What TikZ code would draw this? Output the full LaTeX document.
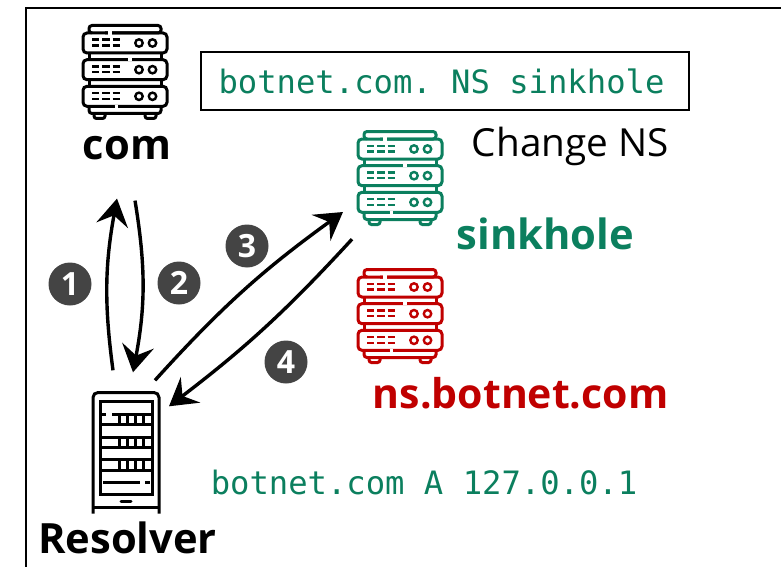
\documentclass[tikz,border=0pt]{standalone}
\usepackage{fontspec}
\setmainfont{Open Sans}
\setmonofont{DejaVu Sans Mono}
\usetikzlibrary{positioning,calc,arrows.meta}
\definecolor{sinkgreen}{HTML}{0B7F5E}
\definecolor{nsred}{HTML}{C00000}
\definecolor{badgegray}{HTML}{444444}

\tikzset{
  pics/server/.style={code={
    % cap, three units, feet
    \draw[line width=3pt, rounded corners=3pt] (-33,-39) -- (-36,-39) -- (-36,-46.5) -- (36,-46.5) -- (36,-39) -- (-20,-39);
    \foreach \y in {-39,-12.3,14.3} {
      \draw[line width=3pt, rounded corners=4pt] (-42,\y) rectangle (42,\y+20);
      \foreach \c in {-29.4,-19,-8.7} {
        \draw[line width=2.4pt] (\c-3.6,\y+6.7) -- (\c+3.6,\y+6.7);
        \draw[line width=2.4pt] (\c-3.6,\y+12.5) -- (\c+3.6,\y+12.5);
      }
      \draw[line width=2.4pt] (14,\y+10) circle (3.7pt);
      \draw[line width=2.4pt] (27.5,\y+10) circle (3.7pt);
    }
    \draw[white, line width=3.4pt] (-17,-39) -- (-13.5,-39);
    \draw[white, line width=3.4pt] (3,-12.3) -- (6.5,-12.3);
    \draw[line width=3pt] (-36,-19) -- (-36,-12.3) (36,-19) -- (36,-12.3);
    \draw[line width=3pt] (-36,7.7) -- (-36,14.3) (36,7.7) -- (36,14.3);
    \draw[line width=3pt, rounded corners=3pt] (-36,34.3) -- (-36,41.5) -- (36,41.5) -- (36,34.3);
    \draw[white, line width=3.4pt] (-10.5,34.3) -- (-7,34.3);
    \draw[line width=3pt, rounded corners=2.5pt] (-31,41.5) -- (-31,46.5) -- (-20,46.5) -- (-20,41.5);
    \draw[line width=3pt, rounded corners=2.5pt] (20,41.5) -- (20,46.5) -- (31,46.5) -- (31,41.5);
  }},
  pics/rack/.style={code={
    % cabinet, screen, shelves
    \draw[line width=3pt, rounded corners=5pt] (-33,60.5) -- (-33,-60.5) -- (33,-60.5) -- (33,60.5);
    \draw[line width=3pt] (-33,54) -- (33,54);
    \draw[line width=3pt] (-26,-52) rectangle (26,41);
    \draw[line width=3pt, line cap=round] (-5,48) -- (5,48);
    \foreach \y in {-29,-6,17} {
      \draw[line width=3pt] (-26,\y) -- (26,\y);
    }
    \foreach \y in {-39,-16,6.5} {
      \draw[line width=3pt] (-26,\y) -- (26,\y);
      \foreach \x in {-6.7,1.3,9.3,17.3} {
        \draw[line width=2.6pt] (\x,\y) -- (\x,\y+10.5);
      }
    }
    \draw[line width=3pt] (-23,29) -- (14,29);
    \draw[line width=3pt] (19,29) -- (24,29);
    \draw[white, line width=3.4pt] (-20,-39) -- (-14,-39);
  }}
}

\begin{document}
\begin{tikzpicture}[
        x=1pt, y=-1pt,
        iconbox/.style={minimum width=85pt, minimum height=96pt, inner sep=0pt},
        nametag/.style={inner sep=0pt, text height=30pt, text depth=0pt, font=\fontsize{41.7}{41.7}\selectfont\bfseries},
        record/.style={inner sep=0pt, font=\fontsize{32.2}{32.2}\selectfont\ttfamily, text=sinkgreen},
        badge/.style={circle, fill=badgegray, text=white, minimum size=43pt, inner sep=0pt, font=\fontsize{32}{32}\selectfont\bfseries},
        flow/.style={-{Stealth[length=27pt, width=32pt, inset=10pt]}, line width=3.4pt, shorten >=0pt}
      ]

      \useasboundingbox (0,0) rectangle (781,567);
      \draw[line width=2pt] (26,567) -- (26,8) -- (781,8);

      \node (comicon) [iconbox] at (125,72) {};
      \pic at (comicon) {server};
      \node (comtag) [nametag, below=9pt of comicon, xshift=2pt] {com};

      \node (zonebox) [record, draw=black, line width=2.6pt, minimum width=488pt, minimum height=58pt] at (445,81) {botnet.com. NS sinkhole\hspace*{7pt}};

      \node (sinkicon) [iconbox] at (400,178) {};
      \pic[color=sinkgreen] at (sinkicon) {server};
      \node (changetag) [inner sep=0pt, text height=30pt, text depth=0pt, font=\fontsize{38.7}{38.7}\selectfont, above right=-27pt and 29pt of sinkicon] {Change NS};
      \node (sinktag) [nametag, text=sinkgreen, below right=-7pt and 14pt of sinkicon] {sinkhole};

      \node (nsicon) [iconbox] at (400,316) {};
      \pic[color=nsred] at (nsicon) {server};
      \node (nstag) [nametag, font=\fontsize{41}{41}\selectfont\bfseries, text=nsred, below right=14pt and -70pt of nsicon] {ns.botnet.com};

      \node (resolvericon) [minimum width=67pt, minimum height=121pt, inner sep=0pt] at (126,453) {};
      \pic at (resolvericon) {rack};
      \node (resolvertag) [nametag, below=10pt of resolvericon, xshift=1.5pt] {Resolver};

      \node (answer) [record, anchor=base] at (424,494) {botnet.com A 127.0.0.1};

      \node (one) [badge] at (70,284) {1};
      \node (two) [badge] at (179,283) {2};
      \node (three) [badge] at (247,246) {3};
      \node (four) [badge] at (286,362) {4};

      \draw[flow] ([xshift=-13pt,yshift=22pt]resolvericon.north) to[bend left=9] ([xshift=-10pt,yshift=-39pt]comtag.south);
      \draw[flow] ([xshift=8pt,yshift=-41pt]comtag.south) to[bend left=10] ([xshift=7pt,yshift=20pt]resolvericon.north);
      \draw[flow] ([xshift=29pt,yshift=12pt]resolvericon.north) to[bend left=6] ([xshift=-57pt,yshift=-34pt]sinkicon.center);
      \draw[flow] ([xshift=-48pt,yshift=-13pt]sinkicon.south) to[bend left=5] ([xshift=43pt,yshift=-14pt]resolvericon.north);

    \end{tikzpicture}
\end{document}
